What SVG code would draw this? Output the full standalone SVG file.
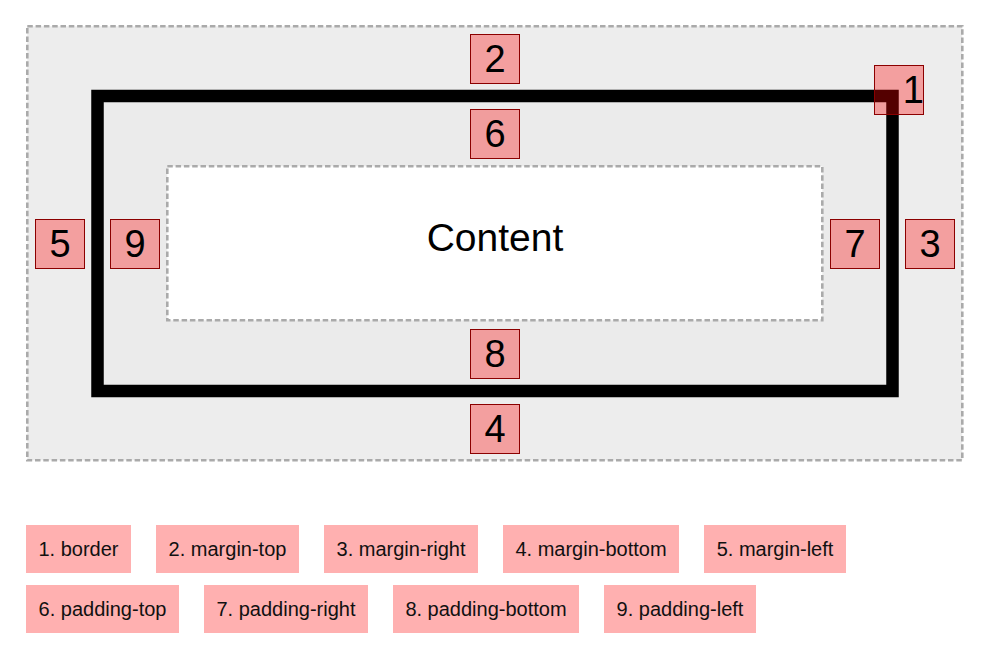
<svg xmlns="http://www.w3.org/2000/svg" width="990" height="653" viewBox="0 0 990 653">
<style>
.dash{fill:none;stroke:#aaaaaa;stroke-width:2.6;stroke-dasharray:5.5 2.8}
.num rect{fill:rgba(255,0,0,0.33);stroke:#8b0000;stroke-width:1}
.num text{font-family:"Liberation Sans",Arial,sans-serif;font-size:38px;fill:#000;text-anchor:middle}
.leg rect{fill:#ffb0b0}
.leg text{font-family:"Liberation Sans",Arial,sans-serif;font-size:20px;fill:#111;text-anchor:middle}
</style>
<rect width="990" height="653" fill="#ffffff"/>
<g id="margin">
<rect x="27.3" y="26.3" width="935" height="434" fill="#ededed"/>
<rect class="dash" x="27.3" y="26.3" width="935" height="434"/>
</g>
<g id="border">
<rect x="97.5" y="96" width="795" height="295" fill="#ebebeb" stroke="#000" stroke-width="12.5"/>
</g>
<g id="content">
<rect x="167.3" y="166.3" width="655" height="154" fill="#ffffff"/>
<rect class="dash" x="167.3" y="166.3" width="655" height="154"/>
<text x="495" y="251" font-family="'Liberation Sans',Arial,sans-serif" font-size="39" text-anchor="middle" fill="#000">Content</text>
</g>
<g id="n1" class="num"><rect x="874.5" y="65.5" width="49" height="49"/><text x="924" y="102.5" style="text-anchor:end">1</text></g>
<g id="n2" class="num"><rect x="470.5" y="34.5" width="49" height="49"/><text x="495" y="71.5">2</text></g>
<g id="n3" class="num"><rect x="905.5" y="219.5" width="49" height="49"/><text x="930" y="256.5">3</text></g>
<g id="n4" class="num"><rect x="470.5" y="404.5" width="49" height="49"/><text x="495" y="441.5">4</text></g>
<g id="n5" class="num"><rect x="35.5" y="219.5" width="49" height="49"/><text x="60" y="256.5">5</text></g>
<g id="n6" class="num"><rect x="470.5" y="109.5" width="49" height="49"/><text x="495" y="146.5">6</text></g>
<g id="n7" class="num"><rect x="830.5" y="219.5" width="49" height="49"/><text x="855" y="256.5">7</text></g>
<g id="n8" class="num"><rect x="470.5" y="329.5" width="49" height="49"/><text x="495" y="366.5">8</text></g>
<g id="n9" class="num"><rect x="110.5" y="219.5" width="49" height="49"/><text x="135" y="256.5">9</text></g>
<g id="connectors"></g>
<g id="legend1" class="leg"><rect x="26" y="525" width="105" height="48"/><text x="78.5" y="555.5">1. border</text></g>
<g id="legend2" class="leg"><rect x="156" y="525" width="143" height="48"/><text x="227.5" y="555.5">2. margin-top</text></g>
<g id="legend3" class="leg"><rect x="324" y="525" width="154" height="48"/><text x="401" y="555.5">3. margin-right</text></g>
<g id="legend4" class="leg"><rect x="503" y="525" width="176" height="48"/><text x="591" y="555.5">4. margin-bottom</text></g>
<g id="legend5" class="leg"><rect x="704" y="525" width="142" height="48"/><text x="775" y="555.5">5. margin-left</text></g>
<g id="legend6" class="leg"><rect x="26" y="585" width="153" height="48"/><text x="102.5" y="615.5">6. padding-top</text></g>
<g id="legend7" class="leg"><rect x="204" y="585" width="164" height="48"/><text x="286" y="615.5">7. padding-right</text></g>
<g id="legend8" class="leg"><rect x="393" y="585" width="186" height="48"/><text x="486" y="615.5">8. padding-bottom</text></g>
<g id="legend9" class="leg"><rect x="604" y="585" width="152" height="48"/><text x="680" y="615.5">9. padding-left</text></g>
</svg>
